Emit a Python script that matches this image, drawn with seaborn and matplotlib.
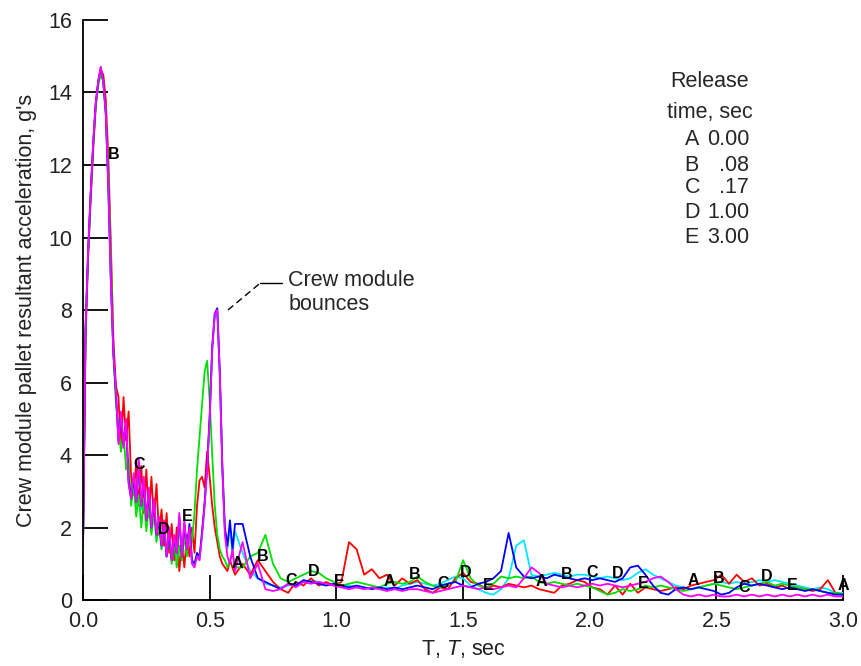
import numpy as np
import pandas as pd
import matplotlib
matplotlib.use("Agg")
import matplotlib.pyplot as plt
import seaborn as sns
from matplotlib.ticker import FormatStrFormatter

sns.set_theme(style="white")
plt.rcParams["font.family"] = ["Liberation Sans", "DejaVu Sans"]
plt.rcParams["mathtext.fontset"] = "custom"
plt.rcParams["mathtext.it"] = "Liberation Sans:italic"
plt.rcParams["mathtext.rm"] = "Liberation Sans"

# sample times (s): fine sampling during impact, coarser afterwards
t_early = np.round(np.arange(0.0, 0.601, 0.01), 2)
t_late = np.round(np.arange(0.63, 3.001, 0.03), 2)

# accelerations (g's), impact phase 0.00-0.60 s
a_early = [1.5, 7.2, 9.4, 11.0, 12.4, 13.6, 14.3, 14.6, 14.5, 13.8, 12.2, 9.8, 7.2, 5.9, 5.6, 4.1,
           5.6, 4.4, 5.2, 3.4, 2.9, 3.8, 2.6, 3.7, 2.4, 3.6, 2.3, 3.4, 2.2, 3.2, 1.8, 2.5, 1.5, 2.4,
           1.3, 2.1, 1.1, 2.0, 0.8, 1.6, 0.9, 1.8, 1.2, 2.0, 1.3, 2.6, 3.3, 3.4, 3.1, 4.1, 3.4, 2.6,
           2.0, 1.6, 1.2, 1.0, 0.9, 0.8, 1.1, 0.9, 0.7]
b_early = [1.5, 7.4, 9.5, 11.1, 12.5, 13.6, 14.2, 14.5, 14.3, 13.5, 11.8, 9.3, 6.9, 5.4, 4.8, 4.1,
           4.6, 3.6, 3.9, 2.6, 3.2, 2.3, 2.9, 2.0, 2.8, 1.9, 2.6, 1.8, 2.4, 1.6, 2.1, 1.4, 2.0, 1.2,
           1.8, 1.0, 1.6, 0.9, 1.5, 1.1, 1.8, 1.2, 2.0, 1.6, 2.4, 3.6, 4.5, 5.4, 6.3, 6.6, 5.5, 4.0,
           2.6, 1.8, 1.4, 1.2, 1.1, 0.9, 1.1, 1.3, 0.9]
c_early = [1.5, 7.5, 9.6, 11.2, 12.6, 13.7, 14.3, 14.7, 14.3, 13.4, 11.4, 8.8, 6.8, 5.7, 4.4, 5.1,
           4.3, 4.9, 3.3, 2.8, 3.4, 2.7, 3.8, 2.6, 3.3, 2.2, 3.0, 2.0, 2.7, 1.8, 2.2, 1.5, 2.1, 1.2,
           1.9, 1.1, 1.7, 1.3, 2.3, 1.2, 2.1, 1.4, 2.1, 1.1, 1.0, 1.3, 1.2, 1.9, 2.7, 3.7, 5.1, 7.0,
           7.9, 8.05, 6.3, 3.7, 2.0, 1.5, 2.2, 1.4, 2.1]
d_early = [1.5, 7.4, 9.5, 11.1, 12.5, 13.6, 14.2, 14.6, 14.3, 13.4, 11.3, 8.7, 6.7, 5.6, 4.4, 5.0,
           4.2, 4.8, 3.2, 2.8, 3.3, 2.6, 3.7, 2.5, 3.2, 2.1, 2.9, 1.9, 2.6, 1.7, 2.1, 1.4, 2.0, 1.2,
           1.8, 1.1, 1.6, 1.2, 2.2, 1.1, 2.0, 1.3, 2.0, 1.1, 1.0, 1.2, 1.1, 1.8, 2.6, 3.6, 5.0, 6.9,
           7.8, 7.9, 6.2, 3.6, 1.9, 1.4, 2.0, 1.3, 1.9]
e_early = [1.5, 7.5, 9.6, 11.2, 12.6, 13.7, 14.3, 14.7, 14.3, 13.4, 11.4, 8.8, 6.8, 5.8, 4.3, 5.2,
           4.2, 5.0, 3.2, 2.8, 3.5, 2.7, 3.9, 2.6, 3.4, 2.2, 3.1, 2.0, 2.8, 1.8, 2.3, 1.5, 2.2, 1.2,
           2.0, 1.1, 1.8, 1.3, 2.4, 1.2, 2.2, 1.4, 2.0, 1.0, 0.9, 1.2, 1.1, 1.8, 2.6, 3.6, 5.0, 6.9,
           7.9, 8.0, 6.2, 3.6, 1.8, 1.2, 1.0, 1.4, 0.8]

# accelerations (g's), 0.63-3.00 s
a_late = [1.0, 0.7, 1.1, 0.8, 0.5, 0.3, 0.2, 0.5, 0.4, 0.6, 0.4, 0.5, 0.4, 0.5, 1.6, 1.4, 0.7, 0.85,
          0.6, 0.7, 0.4, 0.6, 0.45, 0.55, 0.3, 0.2, 0.35, 0.3, 0.6, 0.75, 0.5, 0.45, 0.3, 0.4, 0.35,
          0.45, 0.4, 0.35, 0.4, 0.3, 0.25, 0.2, 0.4, 0.45, 0.55, 0.5, 0.35, 0.3, 0.15, 0.4, 0.15,
          0.45, 0.2, 0.35, 0.3, 0.25, 0.3, 0.35, 0.3, 0.4, 0.45, 0.5, 0.55, 0.7, 0.45, 0.7, 0.5,
          0.6, 0.4, 0.45, 0.35, 0.4, 0.3, 0.35, 0.3, 0.25, 0.3, 0.55, 0.2, 0.15]
b_late = [0.9, 1.2, 1.3, 1.8, 1.0, 0.6, 0.5, 0.6, 0.7, 0.8, 0.75, 0.6, 0.5, 0.4, 0.45, 0.5, 0.45,
          0.4, 0.35, 0.45, 0.5, 0.45, 0.5, 0.65, 0.5, 0.4, 0.35, 0.45, 0.5, 1.1, 0.6, 0.4, 0.35,
          0.45, 0.65, 0.6, 0.65, 0.6, 0.65, 0.5, 0.45, 0.5, 0.45, 0.4, 0.45, 0.4, 0.35, 0.25, 0.15,
          0.2, 0.3, 0.25, 0.3, 0.4, 0.35, 0.4, 0.35, 0.3, 0.25, 0.3, 0.35, 0.4, 0.45, 0.4, 0.35,
          0.3, 0.35, 0.4, 0.45, 0.5, 0.4, 0.45, 0.4, 0.35, 0.3, 0.3, 0.25, 0.2, 0.2, 0.15]
c_late = [2.1, 1.2, 0.6, 0.5, 0.4, 0.3, 0.45, 0.4, 0.55, 0.5, 0.45, 0.4, 0.45, 0.4, 0.35, 0.4,
          0.35, 0.3, 0.35, 0.3, 0.35, 0.3, 0.35, 0.4, 0.35, 0.3, 0.4, 0.45, 0.5, 0.4, 0.35, 0.45,
          0.5, 0.6, 0.8, 1.85, 0.9, 0.65, 0.6, 0.65, 0.6, 0.7, 0.65, 0.6, 0.55, 0.6, 0.55, 0.6,
          0.55, 0.5, 0.6, 0.9, 0.95, 0.7, 0.4, 0.2, 0.15, 0.3, 0.35, 0.3, 0.35, 0.3, 0.25, 0.15,
          0.2, 0.35, 0.45, 0.4, 0.45, 0.4, 0.35, 0.3, 0.35, 0.3, 0.25, 0.3, 0.25, 0.2, 0.15, 0.15]
d_late = [1.3, 0.8, 0.6, 0.45, 0.4, 0.35, 0.4, 0.45, 0.5, 0.55, 0.5, 0.45, 0.4, 0.35, 0.4, 0.35,
          0.3, 0.35, 0.3, 0.35, 0.3, 0.4, 0.45, 0.5, 0.45, 0.4, 0.45, 0.55, 0.65, 0.6, 0.4, 0.3,
          0.2, 0.15, 0.3, 0.6, 1.5, 1.65, 0.7, 0.65, 0.7, 0.75, 0.7, 0.65, 0.7, 0.7, 0.65, 0.6,
          0.65, 0.6, 0.55, 0.6, 0.75, 0.85, 0.7, 0.6, 0.5, 0.4, 0.35, 0.3, 0.35, 0.4, 0.45, 0.5,
          0.45, 0.5, 0.45, 0.5, 0.55, 0.5, 0.55, 0.5, 0.45, 0.4, 0.35, 0.3, 0.35, 0.3, 0.2, 0.2]
e_late = [1.6, 0.6, 1.0, 0.3, 0.25, 0.3, 0.45, 0.35, 0.5, 0.45, 0.5, 0.45, 0.4, 0.35, 0.3, 0.35,
          0.3, 0.35, 0.3, 0.25, 0.3, 0.25, 0.3, 0.3, 0.25, 0.2, 0.25, 0.3, 0.35, 0.4, 0.35, 0.3,
          0.35, 0.3, 0.35, 0.4, 0.35, 0.6, 0.9, 0.75, 0.45, 0.4, 0.35, 0.4, 0.35, 0.4, 0.45, 0.4,
          0.45, 0.4, 0.35, 0.4, 0.45, 0.5, 0.6, 0.65, 0.5, 0.3, 0.15, 0.1, 0.15, 0.1, 0.15, 0.1,
          0.1, 0.15, 0.1, 0.15, 0.1, 0.15, 0.1, 0.15, 0.1, 0.15, 0.1, 0.15, 0.1, 0.15, 0.1, 0.1]

releases = ["A", "B", "C", "D", "E"]
release_times = ["0.00", ".08", ".17", "1.00", "3.00"]
colors = {"A": "#ff0000", "B": "#00e000", "C": "#0000ff", "D": "#00e8ff", "E": "#ff00ff"}
series = {
    "A": a_early + a_late,
    "B": b_early + b_late,
    "C": c_early + c_late,
    "D": d_early + d_late,
    "E": e_early + e_late,
}

# curve identification letters (letter, time, g)
curve_letters = [
    ("B", 0.12, 12.3), ("C", 0.22, 3.75), ("D", 0.32, 1.95), ("E", 0.41, 2.3),
    ("A", 0.61, 1.0), ("B", 0.71, 1.2), ("C", 0.82, 0.55), ("D", 0.91, 0.8),
    ("E", 1.01, 0.5), ("A", 1.21, 0.5), ("B", 1.31, 0.7), ("C", 1.42, 0.46),
    ("D", 1.51, 0.75), ("E", 1.60, 0.41), ("A", 1.81, 0.5), ("B", 1.91, 0.7),
    ("C", 2.01, 0.77), ("D", 2.11, 0.72), ("E", 2.21, 0.46), ("A", 2.41, 0.55),
    ("B", 2.51, 0.6), ("C", 2.61, 0.36), ("D", 2.70, 0.66), ("E", 2.80, 0.41),
    ("A", 3.0, 0.41),
]

t_all = np.concatenate([t_early, t_late])
frames = []
for r in releases:
    assert len(series[r]) == len(t_all)
    frames.append(pd.DataFrame({"time": t_all, "accel": series[r], "release": r}))
df = pd.concat(frames, ignore_index=True)

fig = plt.figure(figsize=(8.62, 6.66), dpi=100)
ax = fig.add_axes([0.0963, 0.099, 0.8817, 0.871])

sns.lineplot(data=df, x="time", y="accel", hue="release", hue_order=["D", "A", "B", "C", "E"],
             palette=colors, estimator=None, legend=False, linewidth=1.3, ax=ax)

for letter, tx, gy in curve_letters:
    ax.text(tx, gy, letter, ha="center", va="center", fontsize=11.5, fontweight="bold",
            color="black", zorder=5)

# annotation for the bounce
ax.plot([0.572, 0.699], [8.0, 8.74], color="black", lw=1.0, ls=(0, (5, 3)))
ax.plot([0.699, 0.786], [8.74, 8.74], color="black", lw=1.0)
ax.text(0.81, 9.1, "Crew module\nbounces", ha="left", va="top", fontsize=15.5,
        linespacing=1.15)

# release time key
ax.text(2.475, 14.29, "Release", ha="center", va="center", fontsize=15.5)
ax.text(2.475, 13.46, "time, sec", ha="center", va="center", fontsize=15.5)
key_y = [12.69, 12.0, 11.37, 10.68, 9.99]
for r, rt, ky in zip(releases, release_times, key_y):
    ax.text(2.375, ky, r, ha="left", va="center", fontsize=15.5)
    ax.text(2.629, ky, rt, ha="right", va="center", fontsize=15.5)

ax.set_xlim(0, 3.0)
ax.set_ylim(0, 16)
ax.set_xticks([0.0, 0.5, 1.0, 1.5, 2.0, 2.5, 3.0])
ax.set_yticks(range(0, 17, 2))
ax.xaxis.set_major_formatter(FormatStrFormatter("%.1f"))
ax.tick_params(axis="both", direction="in", length=18, width=1.3, color="black",
               labelsize=15.5, pad=8, labelcolor="#222222", bottom=True, left=True)
ax.set_xlabel("T, $\\mathit{T}$, sec", fontsize=15.5, labelpad=4, color="#222222")
ax.set_ylabel("Crew module pallet resultant acceleration, g's", fontsize=15.5,
              labelpad=8, color="#222222")

for side in ["top", "right"]:
    ax.spines[side].set_visible(False)
for side in ["left", "bottom"]:
    ax.spines[side].set_color("black")
    ax.spines[side].set_linewidth(1.3)

fig.savefig("out.png", dpi=100)
